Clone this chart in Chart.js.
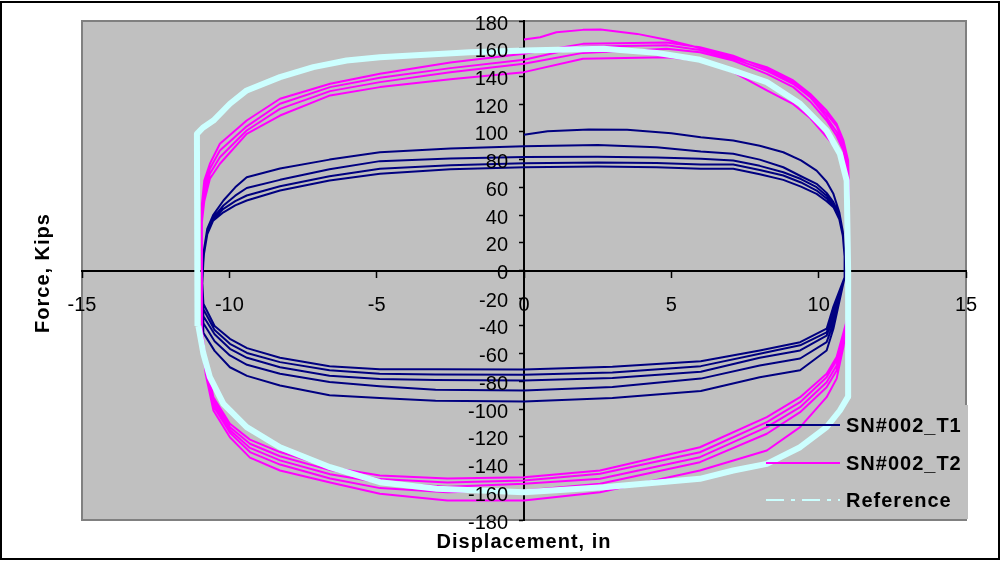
<!DOCTYPE html>
<html>
<head>
<meta charset="utf-8">
<script src="https://cdn.jsdelivr.net/npm/chart.js@4.4.0/dist/chart.umd.min.js"></script>
<style>
    html, body { margin: 0; padding: 0; background: #fff; }
</style>
</head>
<body>
<canvas id="grafica" width="1002" height="562"></canvas>
<script>
// legend labels
const etiquetas = ['SN#002_T1', 'SN#002_T2', 'Reference'];

// axis ranges / steps
const rangoX = [-15, 15];
const rangoY = [-180, 180];
const pasoX = 5;
const pasoY = 20;

// ---- SN#002_T1 (displacement in, force kips) ----
const t1Up1Disp = [0, 0.8, 2.2, 3.5, 5, 6, 7.1, 8.0, 8.8, 9.4, 9.93, 10.27, 10.5, 10.7, 10.82, 10.88];
const t1Up1 = [97.9, 100.5, 101.7, 101.5, 99, 96.2, 93.8, 90, 85.3, 79.5, 72.1, 64, 55.3, 42, 28, 10];

const t1UpDisp = [-10.92, -10.86, -10.75, -10.55, -10.2, -9.8, -9.41, -8.28, -6.6, -4.89, -2.5, 0, 2.5, 4.5, 6, 7.1, 8.0, 8.8, 9.4, 9.93, 10.27, 10.5, 10.7, 10.82, 10.88];
const t1Up2 = [-10, 15, 30, 40, 50.5, 60, 67.3, 73.6, 80, 85.3, 88, 89.7, 90.5, 89, 85.9, 84.2, 80, 74.5, 68, 62.5, 56, 49.3, 40, 28, 10];
const t1Up3 = [-8, 14, 28, 38, 46.9, 54, 59.5, 65.4, 73, 78.9, 80.8, 81.8, 82, 81.5, 80.6, 79.4, 75.5, 70.9, 66, 60.1, 54, 48.1, 39, 27, 10];
const t1Up4 = [-6, 13, 27, 37, 44.5, 50, 54.1, 60.8, 68, 73.4, 76, 77.4, 78, 77.5, 76.5, 76.5, 72.5, 68.5, 63.5, 57.7, 52, 46.9, 38, 26, 10];
const t1Up5 = [-5, 12, 26, 36, 42, 47, 50.5, 57.7, 65, 69.8, 73, 74.5, 75, 74.5, 73.4, 73.4, 69.5, 65.4, 60.5, 55.3, 50, 45.7, 37, 25, 10];

const t1LowDisp = [10.88, 10.5, 10.27, 9.37, 8.0, 6.0, 3.0, 0, -3, -4.9, -6.6, -8.28, -9.4, -9.98, -10.5, -10.88, -10.92];
const t1Low1 = [-5, -42, -57.7, -72, -77, -87, -92, -94.5, -94, -92, -90, -83, -76, -69.8, -58, -45, -20];
const t1Low2 = [-5, -38, -51.7, -63.5, -68.5, -78, -84, -86.6, -86, -83.5, -80.5, -74.5, -68, -61.3, -51, -38, -15];
const t1Low3 = [-5, -34, -47, -57.7, -63, -73, -77.5, -79.4, -79, -78.3, -76, -69.8, -63, -56.5, -46, -33, -12];
const t1Low4 = [-5, -30, -44.7, -54, -60.1, -69, -73.5, -75.3, -75, -74.5, -72, -66.1, -59.5, -52.9, -43, -28, -10];
const t1Low5 = [-5, -26, -42, -51.7, -57.7, -65.5, -69.5, -71.4, -71.2, -71.3, -69, -63, -56, -49.3, -40, -24, -8];

// ---- SN#002_T2 ----
const t2Up1Disp = [0, 0.55, 1.1, 2.0, 2.6, 3.15, 3.84, 4.84, 5.97, 7.1, 8.24, 9.14, 9.71, 10.27, 10.61, 10.84, 11.0, 11.03];
const t2Up1 = [166.7, 168.3, 171.9, 173.6, 173.9, 172.5, 170.7, 166.5, 160.5, 154, 146.7, 137.1, 127.5, 115.4, 105.8, 93.8, 79.4, 55];

const t2UpDisp = [-10.93, -10.85, -10.66, -10.32, -9.41, -8.28, -6.58, -4.89, -2.5, 0, 2.0, 4.84, 5.97, 7.1, 8.24, 9.14, 9.71, 10.27, 10.61, 10.84, 11.0, 11.03];
const t2Up2 = [48.1, 64.9, 77, 91.4, 108.2, 123.9, 134.7, 141.9, 150, 156.3, 163.5, 164.5, 161, 155, 145.5, 136, 126.5, 113, 104, 92, 77, 50];
const t2Up3 = [45, 60, 73.4, 86.6, 104, 120.3, 132.3, 139, 146, 152, 161.5, 162.5, 159, 153, 144, 134.5, 125, 110.6, 100, 90, 72, 45];
const t2Up4 = [40, 55, 69.8, 81.7, 101, 116.6, 129.4, 135.9, 143, 149.1, 157, 160, 157.5, 151.5, 141.9, 132.3, 122, 108.2, 97, 86.6, 68, 40];
const t2Up5 = [35, 50, 66.2, 77, 98.6, 111.8, 126.3, 132.3, 138, 143.1, 152.7, 153.9, 151.5, 143.1, 129.9, 120, 110, 96.2, 88, 79.4, 60, 35];

const t2LowDisp = [11.03, 10.84, 10.61, 10.27, 9.37, 8.24, 5.97, 2.58, 0, -2.6, -4.89, -6.58, -8.28, -9.3, -9.98, -10.54, -10.8, -10.95];
const t2Low1 = [-30, -55, -78, -91.4, -113, -129.9, -144.3, -160, -165.9, -166, -161.1, -153, -144.3, -135, -120.3, -101, -75, -47];
const t2Low2 = [-30, -52, -72.1, -84.2, -102.2, -117.8, -138.3, -153.9, -158.7, -160, -157, -150, -140, -131, -117, -98, -72, -45];
const t2Low3 = [-30, -50, -68.5, -80.6, -98.6, -113, -134.7, -150.3, -153.9, -156, -153, -147, -137, -128, -115, -96, -70, -43];
const t2Low4 = [-30, -48, -64.9, -77, -95, -109.4, -131.1, -146.7, -151.5, -153, -150.5, -144, -134, -125, -113, -94, -67, -41];
const t2Low5 = [-30, -45, -62.5, -74.5, -91.4, -105.8, -127.5, -144.3, -149.1, -150, -147.9, -141.9, -131, -122, -110.6, -91.4, -65, -40];

// ---- Reference ----
const refDisp = [-11.08, -11.1, -10.9, -10.54, -9.98, -9.41, -8.28, -7.15, -6.02, -4.89, -1.83, 0, 2.7, 4.5, 5.97, 7.1, 8.24, 9.37, 10.27, 10.72, 10.95, 11.0, 11.0, 10.72, 10.27, 9.37, 8.24, 7.1, 5.97, 2.7, 0, -2.96, -4.89, -6.58, -8.28, -9.41, -10.2, -10.66, -10.88, -11.05];
const refForce = [-40, 98.6, 103, 108.2, 120.3, 129.9, 139.5, 146.7, 151.5, 153.9, 157.5, 158.7, 160, 157, 152, 144.3, 135.9, 120.3, 101, 84.2, 65, 0, -91, -101, -113, -127.5, -139.5, -144.3, -150.3, -156.3, -159.9, -157.5, -152.7, -141.9, -127.5, -113, -96.2, -77, -60, -40];

const colores = ['#000080', '#FF00FF', '#CCFFFF'];

const pares = (xs, ys) => xs.map((x, i) => ({ x: x, y: ys[i] }));

const datosT1 = [
    ...pares(t1Up1Disp, t1Up1), ...pares(t1LowDisp, t1Low1),
    ...pares(t1UpDisp, t1Up2), ...pares(t1LowDisp, t1Low2),
    ...pares(t1UpDisp, t1Up3), ...pares(t1LowDisp, t1Low3),
    ...pares(t1UpDisp, t1Up4), ...pares(t1LowDisp, t1Low4),
    ...pares(t1UpDisp, t1Up5), ...pares(t1LowDisp, t1Low5)
];
const datosT2 = [
    ...pares(t2Up1Disp, t2Up1), ...pares(t2LowDisp, t2Low1),
    ...pares(t2UpDisp, t2Up2), ...pares(t2LowDisp, t2Low2),
    ...pares(t2UpDisp, t2Up3), ...pares(t2LowDisp, t2Low3),
    ...pares(t2UpDisp, t2Up4), ...pares(t2LowDisp, t2Low4),
    ...pares(t2UpDisp, t2Up5), ...pares(t2LowDisp, t2Low5)
];
const datosRef = pares(refDisp, refForce);

const fuente = 'Liberation Sans, Arial, sans-serif';

// gray plot area, outer frame
const fondo = {
    id: 'fondo',
    beforeDraw(chart) {
        const ctx = chart.ctx;
        const a = chart.chartArea;
        ctx.save();
        ctx.fillStyle = '#fff';
        ctx.fillRect(0, 0, chart.width, chart.height);
        ctx.strokeStyle = '#000';
        ctx.lineWidth = 2;
        ctx.strokeRect(1, 2, 998, 557);
        ctx.fillStyle = '#C0C0C0';
        ctx.fillRect(a.left, a.top, a.right - a.left, a.bottom - a.top);
        ctx.strokeStyle = '#808080';
        ctx.lineWidth = 2;
        ctx.strokeRect(a.left, a.top, a.right - a.left, a.bottom - a.top);
        ctx.restore();
    }
};

// y tick labels (right aligned left of the axis), legend, axis titles
const leyenda = {
    id: 'leyenda',
    afterDraw(chart) {
        const ctx = chart.ctx;
        const a = chart.chartArea;
        const ejeY = chart.scales.y;
        const x0 = chart.scales.x.getPixelForValue(0);
        ctx.save();

        ctx.font = '20px ' + fuente;
        ctx.fillStyle = '#000';
        ctx.textAlign = 'right';
        ctx.textBaseline = 'middle';
        ejeY.ticks.forEach(t => {
            ctx.fillText(String(t.value), x0 - 16, ejeY.getPixelForValue(t.value) + 3);
        });

        ctx.fillStyle = '#C0C0C0';
        ctx.fillRect(900, 405, a.right - 900 + 2, a.bottom - 406);

        const filas = [425, 463, 500];
        const guiones = [[], [], [18, 7, 4, 7]];
        ctx.font = 'bold 20px ' + fuente;
        ctx.letterSpacing = '1px';
        etiquetas.forEach((txt, i) => {
            ctx.strokeStyle = colores[i];
            ctx.lineWidth = 2;
            ctx.setLineDash(guiones[i]);
            ctx.beginPath();
            ctx.moveTo(766, filas[i]);
            ctx.lineTo(840, filas[i]);
            ctx.stroke();
            ctx.setLineDash([]);
            ctx.fillStyle = '#000';
            ctx.textAlign = 'left';
            ctx.fillText(txt, 846, filas[i] + 1);
        });

        ctx.textAlign = 'center';
        ctx.fillText('Displacement, in', 524, 542);
        ctx.translate(43, 273);
        ctx.rotate(-Math.PI / 2);
        ctx.fillText('Force, Kips', 0, 0);
        ctx.restore();
    }
};

const instancia = document.getElementById('grafica').getContext('2d');
const myChart = new Chart(instancia, {
    type: 'scatter',
    data: {
        datasets: [
            { label: etiquetas[0], data: datosT1, borderColor: colores[0], borderWidth: 2, order: 3 },
            { label: etiquetas[1], data: datosT2, borderColor: colores[1], borderWidth: 2, order: 2 },
            { label: etiquetas[2], data: datosRef, borderColor: colores[2], borderWidth: 6, order: 1 }
        ]
    },
    options: {
        responsive: false,
        animation: false,
        devicePixelRatio: 1,
        showLine: true,
        elements: {
            point: { radius: 0, hoverRadius: 0 },
            line: { tension: 0, fill: false, borderJoinStyle: 'round' }
        },
        layout: { padding: { left: 82, right: 36, top: 21, bottom: 42 } },
        plugins: {
            legend: { display: false },
            tooltip: { enabled: false }
        },
        scales: {
            x: {
                type: 'linear',
                min: rangoX[0],
                max: rangoX[1],
                position: { y: 0 },
                z: 1,
                border: { color: '#000', width: 2 },
                grid: { drawOnChartArea: false, color: '#000', tickLength: 6, tickWidth: 1.5 },
                ticks: {
                    stepSize: pasoX, color: '#000', padding: 17, maxRotation: 0, autoSkip: false,
                    font: { family: fuente, size: 20 }
                }
            },
            y: {
                type: 'linear',
                min: rangoY[0],
                max: rangoY[1],
                position: { x: 0 },
                z: 1,
                border: { color: '#000', width: 2 },
                grid: { drawOnChartArea: false, color: '#000', tickLength: 4, tickWidth: 1.5 },
                ticks: {
                    display: false, stepSize: pasoY, autoSkip: false,
                    font: { family: fuente, size: 20 }
                }
            }
        }
    },
    plugins: [fondo, leyenda]
});
</script>
</body>
</html>
